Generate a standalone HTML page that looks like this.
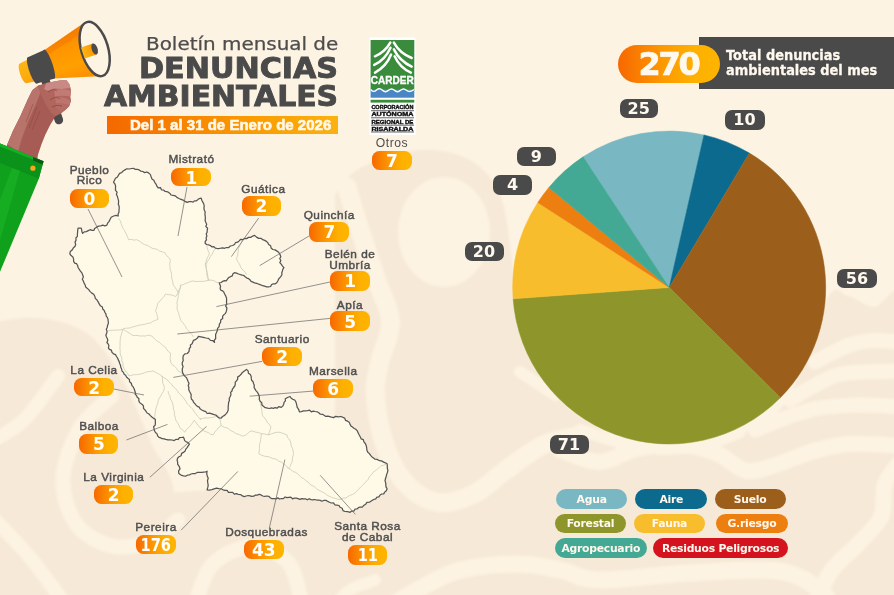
<!DOCTYPE html>
<html><head><meta charset="utf-8"><style>
*{margin:0;padding:0;box-sizing:border-box}
html,body{width:894px;height:595px;overflow:hidden;background:#fdf3e2}
body{position:relative;font-family:"Liberation Sans",Arial,sans-serif;color:#4a4a4a}
.abs{position:absolute}
svg{position:absolute;left:0;top:0}
.lt{position:absolute;width:120px;text-align:center;font-size:11.8px;line-height:14px;color:#4f4f4f;-webkit-text-stroke:0.45px #4f4f4f;letter-spacing:0.5px}
  .pill span{display:inline-block}
.pill{position:absolute;border-radius:7.5px;background:linear-gradient(90deg,#f76800,#fd9a00 45%,#feb100 75%,#feb400);color:#fff;font-family:"DejaVu Sans",sans-serif;font-weight:bold;font-size:17px;text-align:center}
.dp{position:absolute;border-radius:7px;background:#4a4a4a;color:#fff8ee;font-family:"DejaVu Sans",sans-serif;font-weight:bold;font-size:16px;text-align:center}
.lg{position:absolute;border-radius:10px;color:#fff8ee;font-family:"DejaVu Sans",sans-serif;font-weight:bold;font-size:10.8px;letter-spacing:-0.25px;text-align:center}
.t1{position:absolute;left:145.5px;top:33px;font-family:"DejaVu Sans",sans-serif;font-size:18px;line-height:22px;color:#4d4d4d;-webkit-text-stroke:0.25px #4d4d4d;white-space:nowrap;transform-origin:0 0;transform:scaleX(1.107)}
.t2{position:absolute;font-family:"DejaVu Sans",sans-serif;font-weight:bold;font-size:28.3px;line-height:30px;color:#4a4a4a;white-space:nowrap;-webkit-text-stroke:0.9px #4a4a4a;transform-origin:0 0}
.bar{position:absolute;left:106.7px;top:116.1px;width:231px;height:18.3px;background:linear-gradient(90deg,#f46800,#fa9a00 60%,#fbb210)}
.bart{position:absolute;left:130px;top:116.1px;color:#fff8ea;font-weight:bold;font-size:14.4px;line-height:18.3px;white-space:nowrap;-webkit-text-stroke:0.55px #fff8ea;transform-origin:0 0;transform:scaleX(1.044)}
</style></head><body>
<svg width="894" height="595" viewBox="0 0 894 595">
<g id="bgshapes"><filter id="bl"><feGaussianBlur stdDeviation="1.2"/></filter><g filter="url(#bl)"><g fill="#f6e9d7"><path d="M-20,325 C-10.8,323.8 17.5,316.8 35,318 C52.5,319.2 71.2,323.0 85,332 C98.8,341.0 107.2,354.0 118,372 C128.8,390.0 140.5,417.8 150,440 C159.5,462.2 176.7,475.0 175,505 C173.3,535.0 172.5,600.8 140,620 C107.5,639.2 6.7,620.0 -20,620 Z"/><path d="M130,495 C181.7,494.2 386.7,469.2 440,490 C493.3,510.8 501.7,598.3 450,620 C398.3,641.7 183.3,620.0 130,620 Z"/><path d="M335,195 C339.2,190.5 345.8,175.5 360,168 C374.2,160.5 401.7,151.3 420,150 C438.3,148.7 456.7,152.5 470,160 C483.3,167.5 493.0,178.3 500,195 C507.0,211.7 508.7,237.5 512,260 C515.3,282.5 512.0,306.7 520,330 C528.0,353.3 540.0,380.7 560,400 C580.0,419.3 616.7,438.7 640,446 C663.3,453.3 676.7,450.0 700,444 C723.3,438.0 759.0,434.0 780,410 C801.0,386.0 814.7,319.0 826,300 C837.3,281.0 840.2,294.8 848,296 C855.8,297.2 862.0,304.7 873,307 C884.0,309.3 907.2,257.8 914,310 C920.8,362.2 1010.5,568.3 914,620 C817.5,671.7 431.5,620.0 335,620 Z"/></g><ellipse cx="444" cy="232" rx="46" ry="55" fill="#fdf3e2"/><g fill="none" stroke="#fdf3e2" stroke-linecap="round" stroke-linejoin="round"><path d="M58,376 C52.3,383.3 35.3,409.0 24,420 C12.7,431.0 -4.3,438.3 -10,442" stroke-width="14"/><path d="M112,396 C106.7,401.3 88.2,414.3 80,428 C71.8,441.7 63.7,462.0 63,478 C62.3,494.0 67.8,512.7 76,524 C84.2,535.3 99.7,543.2 112,546 C124.3,548.8 139.0,545.3 150,541 C161.0,536.7 173.3,523.5 178,520" stroke-width="15"/><path d="M-10,515 C-3.7,521.7 16.0,540.8 28,555 C40.0,569.2 56.3,592.5 62,600" stroke-width="14"/><path d="M195,605 C197.8,598.3 202.8,574.7 212,565 C221.2,555.3 237.3,547.5 250,547 C262.7,546.5 279.3,552.3 288,562 C296.7,571.7 299.7,597.8 302,605" stroke-width="15"/><path d="M335,605 C337.5,602.5 343.3,594.2 350,590 C356.7,585.8 370.8,581.7 375,580" stroke-width="12"/><path d="M346.8,186.9 C349.0,194.1 355.0,214.3 360,230 C365.0,245.7 371.9,265.8 377,281 C382.1,296.2 389.9,308.1 390.5,321.3 C391.1,334.5 382.9,348.4 380.4,360 C377.9,371.6 374.8,377.8 375.3,391.2 C375.8,404.6 378.7,425.4 383.5,440.5 C388.3,455.6 395.2,471.4 404.1,481.7 C413.0,492.0 425.4,500.2 437,502.3 C448.6,504.4 462.3,499.5 474,494 C485.7,488.5 495.3,477.5 507,469.3 C518.7,461.1 531.8,450.2 544,444.7 C556.2,439.1 574.0,437.4 580,436" stroke-width="19"/><path d="M391.7,605 C402.0,599.5 432.9,579.0 453.5,572.2 C474.1,565.4 497.5,564.4 515.2,564 C533.0,563.6 545.9,567.3 560,570 C574.1,572.7 578.5,579.5 600,580 C621.5,580.5 659.3,574.5 689,573 C718.7,571.5 756.2,568.2 778,571 C799.8,573.8 811.3,584.3 820,590 C828.7,595.7 828.3,602.5 830,605" stroke-width="17"/><path d="M815,362 C820.5,359.3 838.3,349.2 848,345.6 C857.7,342.0 864.3,341.1 873,340.5 C881.7,339.9 895.5,341.8 900,342" stroke-width="15"/><path d="M790,400 C795.5,396.8 813.3,385.5 823,381 C832.7,376.5 835.2,374.7 848,373 C860.8,371.3 891.3,371.3 900,371" stroke-width="15"/><path d="M755,430 C764.2,426.7 792.3,414.2 810,410 C827.7,405.8 846.0,405.5 861,405 C876.0,404.5 893.5,406.7 900,407" stroke-width="15"/><path d="M560,450 C566.7,452.0 587.3,462.2 600,462 C612.7,461.8 622.7,451.8 636,449 C649.3,446.2 666.7,444.3 680,445 C693.3,445.7 704.8,448.7 716,453 C727.2,457.3 736.7,469.2 747,471 C757.3,472.8 766.8,467.3 778,464 C789.2,460.7 802.2,454.3 814,451 C825.8,447.7 834.7,444.8 849,444 C863.3,443.2 891.5,445.7 900,446" stroke-width="16"/><path d="M900,462 C897.5,465.7 888.2,474.8 885,484 C881.8,493.2 885.5,507.0 881,517 C876.5,527.0 866.2,535.2 858,544 C849.8,552.8 839.3,559.8 832,570 C824.7,580.2 817.0,599.2 814,605" stroke-width="16"/><path d="M580,430 C590.0,432.8 620.0,444.3 640,447 C660.0,449.7 683.3,448.5 700,446 C716.7,443.5 733.3,434.3 740,432" stroke-width="12"/><path d="M520,372 C523.3,374.2 534.2,381.2 540,385 C545.8,388.8 552.5,393.3 555,395" stroke-width="12"/></g></g></g>

<defs>
<linearGradient id="cone" x1="0" y1="0" x2="0" y2="1">
<stop offset="0" stop-color="#f67c00"/><stop offset="0.3" stop-color="#ff9500"/><stop offset="0.65" stop-color="#ffa000"/><stop offset="1" stop-color="#fb8a00"/></linearGradient>
<linearGradient id="back" x1="0" y1="0" x2="0" y2="1">
<stop offset="0" stop-color="#fdb814"/><stop offset="1" stop-color="#fba50c"/></linearGradient>
<linearGradient id="drv" x1="0" y1="0" x2="1" y2="0">
<stop offset="0" stop-color="#fdb515"/><stop offset="1" stop-color="#fb9300"/></linearGradient>
</defs>
<g transform="translate(21.75,73.8) rotate(-18.8)">
 <rect x="16" y="10" width="8.5" height="50" rx="4.2" fill="#4a4a4a"/>
 <path d="M1.5,-10.5 L12,-11.8 L12,11.8 L1.5,10.5 A3.2,10.5 0 0 1 1.5,-10.5 Z" fill="url(#back)"/>
 <path d="M28,-14.8 L77,-28.6 L77,28.6 L29,14.8 Z" fill="url(#cone)"/>
 <path d="M28,-14.8 L77,-28.6 L77,-21 L31,-9.5 Z" fill="#f47a00" opacity="0.55"/>
 <path d="M10.5,-13.6 L28.2,-15.2 A3.2,15.2 0 0 1 29.8,15.1 L12,14 A3.2,13.8 0 0 1 10.5,-13.6 Z" fill="#4a4a4a"/>
 <ellipse cx="77" cy="0" rx="13.4" ry="28" fill="#fdf4e4" stroke="#4a4a4a" stroke-width="2.5" transform="rotate(2.5 77 0)"/>
 <path d="M64.5,-5.8 L77,-5.8 L77,5.8 L64.5,5.8 Z" fill="url(#drv)"/>
 <ellipse cx="77" cy="0" rx="2.9" ry="5.8" fill="#4a4a4a"/>
</g>


<path d="M7.4,143.9 L12.9,131 L20.3,116.2 L27.7,99.6 L32.3,90.3 L37.9,85.7 L55,82 L55.4,116.2 L49.9,125.4 L45.3,134.7 L41.6,143.9 L37.9,155 L37,162 L5,150 Z" fill="#a65c55"/>
<path d="M7.4,143.9 L12.9,131 L20.3,116.2 L27.7,99.6 L32.3,90.3 L37.9,85.7 L43,86 L36,104 L28,122 L22,138 L18,152 Z" fill="#b8736a"/>
<path d="M29,128 L37,107 M32,130 L40,111 M26,122 L33,104" stroke="#8a3f3b" stroke-width="0.55" fill="none" opacity="0.8"/>
<path d="M37.9,85.7 L46.2,82.9 L61,80.2 L66.5,80.2 L69.3,83.9 L71.1,90.3 L70.2,95.9 L71.1,100.5 L69.3,106 L65.6,109.7 L61,113.4 L55.4,116.2 L51,113 L46,105 L41,95 Z" fill="#b0655d"/>
<path d="M46.2,82.9 L61,80.2 L66.5,80.2 L69.3,83.9 L70.5,88 L62,89 L54,88.5 L48,91 L44,89 Z" fill="#c98984"/>
<path d="M54,90 Q63,88.5 71,90.5 L70.6,96.5 Q62,95 55,96.5 Z" fill="#c07b74"/>
<path d="M55,97 Q63,96 71,100.5 L69.5,105.5 Q62,102.5 56,103.5 Z" fill="#bb756e"/>
<path d="M56,104 Q62,103 69.3,106 L65.6,109.7 L61,112.5 Q58,109 56,108 Z" fill="#b46c65"/>
<path d="M48,92 Q53,88 57,91 M50,100 Q55,96 60,98.5 M52,107 Q57,104 62,106" stroke="#8a3a38" stroke-width="0.6" fill="none"/>
<path d="M0,143.5 L43.5,161.2 L38.8,178.8 L0,271.8 Z" fill="#10a11c"/>
<path d="M0,143.5 L43.5,161.2 L38.8,178.8 L0,163 Z" fill="#0b921b"/>
<path d="M0,143.5 L43.5,161.2 L43,163.5 L0,146.5 Z" fill="#12b226"/>
<path d="M33,157 L43.5,161.2 L42.6,164.5 L33,160.5 Z" fill="#0a5a16"/>
<path d="M12,168 L20,170.5 L0,240 L0,200 Z" fill="#1cb92a" opacity="0.5"/>
<circle cx="32.9" cy="168.2" r="2.6" fill="#f6a91b"/>


<rect x="369.5" y="37.5" width="46" height="97.5" fill="#ffffff"/>
<rect x="370.6" y="40" width="43.7" height="51" fill="#3a8b3b"/>
<g fill="none" stroke="#fff" stroke-width="2.5" stroke-linecap="round">
<path d="M390.3,42.6 Q385,52 374.9,56.3"/><path d="M390.5,47.7 Q385,60 374.2,64.9"/><path d="M391.1,54.6 Q386,67 375,72.6"/>
<path d="M393.9,42.6 Q399.5,53 411.7,58"/><path d="M393.9,49.4 Q399.5,61 411.7,66.6"/><path d="M394.6,56.3 Q400,68 410.9,72.6"/>
</g>
<text x="392.3" y="84" font-family="'Liberation Sans',sans-serif" font-weight="bold" font-size="10.3" fill="#fff" stroke="#fff" stroke-width="0.3" text-anchor="middle" textLength="43" lengthAdjust="spacingAndGlyphs">CARDER</text>
<rect x="370.6" y="89.5" width="43.7" height="8.2" fill="#4a86c4"/>
<path d="M370.6,89.5 Q373.5,93 376.5,90 Q379.5,87.5 382.5,90.3 Q385.5,93 388.5,90.3 Q391.5,87.5 394.5,90.3 Q397.5,93 400.5,90.3 Q403.5,87.5 406.5,90.3 Q409.5,93 414.3,89.5" fill="none" stroke="#fff" stroke-width="1.4"/>
<rect x="370.6" y="99.8" width="43.7" height="2.8" fill="#3a8b3b"/>
<g font-family="'Liberation Sans',sans-serif" font-weight="bold" font-size="4.9" fill="#111" stroke="#111" stroke-width="0.35" text-anchor="middle">
<text x="392.4" y="109.4" textLength="42" lengthAdjust="spacingAndGlyphs">CORPORACIÓN</text>
<text x="392.4" y="116.3" textLength="42" lengthAdjust="spacingAndGlyphs">AUTÓNOMA</text>
<text x="392.4" y="123.8" textLength="42" lengthAdjust="spacingAndGlyphs">REGIONAL DE</text>
<text x="392.4" y="130.5" textLength="42" lengthAdjust="spacingAndGlyphs">RISARALDA</text>
</g>
<g stroke="#222" stroke-width="0.7">
<line x1="371" y1="110.7" x2="414" y2="110.7"/><line x1="371" y1="117.8" x2="414" y2="117.8"/><line x1="371" y1="125.2" x2="414" y2="125.2"/><line x1="371" y1="132" x2="414" y2="132"/>
</g>

<g id="pie"><path d="M669.2,287.5 L583.05,156.85 A156.5,156.5 0 0 1 703.98,134.91 Z" fill="#79b8c3" stroke="#79b8c3" stroke-width="0.5" stroke-linejoin="round"/><path d="M669.2,287.5 L703.98,134.91 A156.5,156.5 0 0 1 749.41,153.11 Z" fill="#0b6a8d" stroke="#0b6a8d" stroke-width="0.5" stroke-linejoin="round"/><path d="M669.2,287.5 L749.41,153.11 A156.5,156.5 0 0 1 780.31,397.72 Z" fill="#9c5f1b" stroke="#9c5f1b" stroke-width="0.5" stroke-linejoin="round"/><path d="M669.2,287.5 L780.31,397.72 A156.5,156.5 0 0 1 513.11,298.80 Z" fill="#8e962b" stroke="#8e962b" stroke-width="0.5" stroke-linejoin="round"/><path d="M669.2,287.5 L513.11,298.80 A156.5,156.5 0 0 1 537.80,202.49 Z" fill="#f8bd2d" stroke="#f8bd2d" stroke-width="0.5" stroke-linejoin="round"/><path d="M669.2,287.5 L537.80,202.49 A156.5,156.5 0 0 1 548.88,187.43 Z" fill="#ec7f10" stroke="#ec7f10" stroke-width="0.5" stroke-linejoin="round"/><path d="M669.2,287.5 L548.88,187.43 A156.5,156.5 0 0 1 583.05,156.85 Z" fill="#43a994" stroke="#43a994" stroke-width="0.5" stroke-linejoin="round"/></g>
<path d="M113.5,182.2 L114.5,180.3 L115.5,178.3 L117.5,177.0 L118.5,175.1 L119.6,173.3 L121.6,172.6 L122.9,171.2 L124.6,170.1 L126.8,168.8 L129.3,169.0 L131.6,168.5 L133.6,168.3 L135.3,169.4 L137.3,169.4 L139.1,169.9 L140.7,171.1 L142.8,171.5 L144.6,172.6 L146.9,172.0 L148.8,173.1 L150.4,174.6 L151.1,176.8 L151.9,178.9 L153.8,180.2 L154.7,182.3 L156.0,184.1 L156.9,186.2 L158.1,187.9 L160.5,187.6 L161.4,189.8 L163.5,190.0 L164.9,191.3 L166.8,191.6 L168.4,192.3 L169.9,193.4 L171.1,195.0 L173.0,195.3 L175.2,195.8 L176.9,197.4 L178.9,198.5 L181.0,199.3 L183.1,200.1 L185.0,201.4 L187.1,202.4 L189.1,201.6 L191.1,201.5 L193.1,202.1 L194.5,200.9 L196.5,200.8 L197.9,199.6 L199.4,198.6 L201.2,198.1 L201.8,200.2 L202.8,202.1 L203.8,204.0 L204.2,206.1 L203.9,208.2 L204.3,210.2 L205.2,212.1 L204.9,214.2 L205.2,216.2 L205.4,218.2 L205.1,220.3 L205.7,222.3 L206.7,224.2 L205.8,226.4 L207.6,228.2 L207.2,230.3 L207.1,232.2 L206.2,234.0 L206.9,236.0 L206.1,237.8 L206.5,239.8 L205.2,241.5 L205.2,243.4 L206.7,244.5 L208.6,244.9 L210.3,245.5 L211.8,246.8 L213.9,246.7 L215.4,248.1 L217.3,248.5 L219.1,248.5 L221.0,248.2 L222.8,247.8 L224.6,248.3 L226.4,247.5 L228.7,247.5 L230.4,246.0 L232.6,245.5 L234.5,244.5 L235.5,242.7 L237.7,242.2 L239.2,240.9 L240.5,239.4 L242.7,239.7 L244.5,238.4 L246.6,238.6 L248.5,237.4 L250.6,237.4 L252.5,236.2 L254.6,235.4 L256.5,237.1 L258.7,238.4 L261.0,238.3 L262.7,239.7 L264.7,240.4 L266.4,241.4 L267.8,242.7 L268.7,244.5 L270.6,245.7 L271.1,248.1 L272.8,249.5 L275.1,249.9 L277.0,251.1 L278.8,252.5 L280.0,254.5 L280.8,256.6 L279.8,258.5 L280.8,260.7 L279.8,262.6 L281.2,264.2 L282.5,266.1 L283.9,267.7 L282.8,269.3 L282.4,271.1 L281.8,272.8 L281.9,274.7 L280.6,276.9 L278.8,278.7 L277.9,280.8 L276.8,282.8 L275.3,283.8 L273.3,283.8 L271.6,284.5 L270.6,286.5 L268.7,286.8 L266.6,286.8 L264.6,286.2 L262.6,285.7 L260.7,284.8 L258.7,284.2 L256.7,283.3 L254.6,282.8 L252.9,282.1 L251.1,281.4 L250.0,279.8 L248.6,278.7 L246.9,278.1 L245.4,277.0 L244.1,275.6 L242.3,275.2 L240.5,274.7 L238.5,274.0 L236.6,273.2 L234.5,272.7 L232.9,273.8 L232.3,275.9 L230.4,276.7 L228.6,277.6 L227.4,279.1 L226.4,280.8 L224.5,280.7 L222.7,281.3 L221.1,282.5 L219.3,282.8 L219.8,284.6 L220.6,286.3 L220.1,288.2 L220.6,290.0 L222.5,290.8 L223.8,292.1 L224.6,294.0 L225.7,295.9 L226.5,297.9 L226.6,300.1 L226.5,302.1 L226.7,304.2 L225.6,306.1 L226.9,307.9 L226.6,310.2 L226.1,312.0 L225.2,313.6 L223.8,314.8 L222.6,316.2 L222.7,318.5 L220.7,320.1 L220.6,322.3 L219.4,324.2 L219.1,326.6 L217.6,328.3 L217.3,330.5 L216.5,332.4 L215.6,334.4 L215.6,336.4 L215.7,338.5 L214.2,340.3 L214.5,342.4 L212.9,340.7 L210.5,340.4 L208.5,338.4 L205.9,338.0 L203.4,337.4 L200.9,336.9 L198.4,336.4 L197.2,338.3 L195.5,339.6 L193.4,340.4 L192.8,342.1 L192.1,343.8 L190.4,345.0 L190.6,347.1 L189.3,348.5 L189.1,351.3 L187.3,353.5 L184.9,353.9 L183.3,355.6 L182.9,357.9 L183.2,360.4 L182.3,362.6 L182.2,364.6 L183.1,366.6 L182.3,368.7 L182.3,370.7 L182.6,372.9 L183.7,374.7 L185.0,376.4 L186.6,377.9 L187.4,379.8 L188.2,381.8 L189.0,383.6 L188.2,385.6 L188.9,387.4 L188.7,389.4 L189.4,391.2 L190.4,393.0 L191.2,394.8 L191.0,397.0 L191.4,399.0 L192.9,400.6 L193.6,402.4 L194.9,403.7 L196.0,405.1 L197.3,406.3 L199.2,407.1 L200.0,408.8 L201.8,410.0 L203.7,410.9 L205.8,411.7 L207.1,413.5 L209.6,413.1 L211.8,413.9 L214.1,414.7 L216.1,415.2 L217.5,416.7 L219.1,418.0 L221.2,418.2 L222.5,416.5 L224.6,415.4 L226.0,413.8 L227.4,412.1 L228.2,410.0 L228.2,408.1 L228.2,406.2 L228.5,404.3 L228.6,402.4 L229.4,400.6 L229.2,398.5 L230.2,396.5 L231.0,394.5 L230.6,392.4 L232.0,391.0 L232.4,389.1 L233.6,387.5 L234.8,386.0 L235.3,384.1 L235.2,382.1 L236.7,380.7 L237.7,379.1 L237.6,377.1 L239.5,375.9 L241.1,374.3 L242.4,372.4 L244.4,370.9 L246.5,369.4 L248.1,370.9 L248.4,373.2 L250.3,374.6 L251.2,376.5 L251.3,378.4 L251.6,380.3 L253.1,381.7 L253.5,383.5 L254.3,385.2 L254.0,387.3 L254.9,388.9 L255.9,390.6 L257.3,392.1 L258.2,393.8 L259.1,395.6 L259.4,397.6 L259.3,399.6 L260.1,401.3 L261.8,402.7 L261.8,404.7 L263.4,406.3 L265.2,407.7 L267.6,408.2 L269.5,408.5 L271.4,407.9 L273.3,408.3 L275.2,407.6 L277.1,408.2 L278.7,406.7 L281.3,407.4 L282.9,405.9 L283.7,404.2 L284.1,402.4 L285.4,400.8 L285.3,398.8 L287.6,397.5 L290.0,396.5 L291.2,398.2 L292.8,399.3 L294.7,400.0 L295.8,401.6 L296.3,403.4 L296.8,405.2 L297.1,407.1 L298.6,409.3 L299.4,411.8 L301.5,411.6 L303.4,410.8 L305.5,410.8 L307.6,410.6 L309.6,410.2 L311.3,411.8 L313.3,411.1 L315.2,411.5 L317.1,411.8 L318.8,412.8 L320.3,414.2 L322.4,414.3 L324.1,415.3 L325.8,416.4 L327.9,416.2 L329.7,416.7 L331.6,417.2 L333.5,417.6 L335.7,416.4 L338.2,416.8 L340.6,416.5 L342.7,417.2 L344.6,418.1 L345.6,420.4 L347.6,421.2 L349.2,422.3 L350.0,424.1 L350.9,425.9 L352.4,427.1 L353.9,428.3 L355.7,429.2 L357.1,430.6 L358.1,432.7 L359.1,434.8 L360.2,436.8 L361.1,438.8 L363.3,439.7 L363.9,441.9 L365.3,443.5 L366.2,445.6 L366.7,447.9 L366.9,450.2 L367.8,452.2 L369.4,453.6 L370.6,455.3 L372.0,456.9 L373.5,458.1 L375.0,459.2 L377.1,459.4 L378.7,460.3 L382.0,461.1 L383.6,462.1 L385.4,462.8 L387.1,463.7 L387.3,465.9 L387.3,468.2 L387.9,470.4 L387.4,472.5 L386.6,474.6 L386.1,476.7 L385.4,478.8 L385.0,480.9 L385.7,482.9 L385.8,484.9 L386.0,486.9 L387.1,488.8 L386.3,490.7 L384.7,492.1 L383.7,493.9 L381.7,494.0 L380.1,495.0 L378.9,496.9 L377.0,497.2 L375.7,498.9 L373.7,499.5 L372.0,500.6 L369.7,502.1 L366.9,502.3 L365.6,504.3 L363.6,505.6 L362.3,507.1 L360.1,507.0 L358.4,507.7 L356.9,509.0 L354.9,509.2 L353.8,511.2 L351.6,511.1 L350.1,512.3 L347.6,511.6 L345.1,511.5 L343.0,510.6 L342.2,508.2 L340.1,507.3 L339.0,505.5 L336.9,505.1 L334.9,504.8 L333.5,502.9 L331.3,503.0 L329.5,502.2 L327.7,501.4 L326.0,500.3 L324.1,500.3 L322.0,501.2 L320.3,500.4 L318.4,500.0 L316.5,500.0 L314.7,499.5 L312.8,499.9 L311.0,499.6 L309.2,498.7 L307.3,499.8 L305.5,498.8 L303.6,498.8 L301.8,498.6 L299.9,499.3 L298.1,498.7 L296.3,498.1 L294.4,498.1 L292.5,498.8 L290.8,497.1 L288.9,497.3 L287.0,497.7 L285.1,497.0 L283.3,498.6 L281.5,498.5 L279.6,499.0 L277.7,497.9 L275.9,498.9 L274.0,498.6 L272.0,498.7 L270.3,497.7 L268.7,496.3 L266.8,496.0 L264.7,496.4 L262.8,496.0 L261.1,494.9 L259.2,494.3 L257.4,495.1 L255.5,495.0 L253.8,496.2 L251.9,496.4 L250.0,495.8 L248.1,495.5 L246.2,496.0 L244.3,496.6 L242.4,495.9 L240.6,494.6 L238.5,494.5 L236.6,493.7 L234.3,494.2 L232.7,492.4 L230.6,492.4 L228.5,492.4 L227.1,490.4 L224.9,490.3 L223.0,489.8 L221.2,488.8 L218.8,488.7 L216.5,488.1 L214.1,488.8 L211.8,489.6 L209.5,490.2 L207.1,490.0 L207.7,487.7 L208.2,485.3 L207.8,482.9 L207.5,480.6 L208.2,478.2 L207.3,476.0 L206.7,473.7 L207.1,471.2 L205.4,472.0 L203.6,472.1 L201.8,472.4 L200.0,472.4 L197.6,472.3 L195.3,473.5 L192.9,473.5 L191.0,474.0 L189.3,475.0 L187.3,475.2 L185.6,476.2 L183.5,475.9 L181.0,475.1 L178.8,473.5 L178.6,470.9 L180.0,468.8 L179.2,466.3 L177.6,464.1 L177.7,462.1 L177.1,460.2 L177.6,458.2 L179.0,456.7 L181.1,455.8 L181.6,453.4 L183.5,452.4 L185.1,451.1 L185.8,449.1 L187.1,447.6 L188.2,445.8 L189.4,444.1 L188.2,442.5 L186.2,441.9 L184.7,440.6 L184.1,438.8 L183.5,437.1 L181.5,437.5 L179.5,437.7 L178.0,439.5 L175.8,439.4 L174.1,440.6 L172.1,440.0 L170.0,439.8 L167.9,439.9 L165.9,439.4 L164.1,438.9 L162.3,438.7 L160.7,437.9 L159.0,437.3 L157.6,435.9 L157.1,433.9 L155.5,432.5 L154.5,430.8 L154.1,428.8 L153.6,426.8 L155.2,425.1 L155.4,423.2 L155.3,421.3 L155.3,419.4 L153.5,418.3 L151.9,417.0 L150.4,415.6 L149.0,414.0 L147.1,413.0 L145.9,411.2 L144.8,409.7 L143.5,408.4 L143.5,406.2 L142.5,404.7 L140.9,403.6 L139.5,402.4 L138.8,400.6 L138.9,398.6 L137.2,397.3 L136.6,395.6 L135.3,394.2 L135.3,392.2 L134.7,390.5 L134.1,388.8 L133.2,386.9 L131.8,385.3 L131.3,383.2 L129.6,381.7 L129.4,379.4 L127.9,378.3 L126.5,377.0 L125.7,375.3 L124.1,374.3 L123.5,372.4 L122.0,371.0 L121.6,369.0 L120.8,367.3 L120.5,365.3 L119.7,363.5 L119.2,361.6 L118.3,359.9 L117.6,358.1 L116.5,356.5 L115.5,354.6 L113.5,353.8 L112.0,352.4 L111.4,350.2 L109.4,349.4 L108.4,347.8 L108.9,345.8 L108.3,344.1 L106.9,342.5 L107.8,340.5 L107.4,338.7 L106.5,337.0 L105.9,335.3 L106.6,333.3 L107.1,331.4 L106.3,329.2 L107.3,327.2 L107.6,325.2 L108.4,323.3 L108.2,321.2 L108.0,319.2 L107.3,317.5 L106.2,315.9 L105.9,313.9 L104.9,312.3 L104.2,310.5 L102.7,309.0 L102.4,307.1 L100.4,305.8 L99.2,303.9 L98.2,301.9 L97.0,300.0 L95.3,298.4 L94.8,296.2 L93.7,294.3 L91.8,293.1 L90.2,291.6 L88.9,289.9 L87.4,288.4 L85.7,287.1 L85.2,285.0 L84.1,283.1 L83.4,281.1 L82.3,279.2 L83.4,277.0 L82.7,275.0 L81.9,272.9 L80.4,271.2 L79.3,269.3 L78.1,267.5 L77.6,265.5 L76.6,263.7 L74.7,263.1 L73.6,261.4 L73.6,259.1 L72.9,256.9 L71.1,255.6 L69.8,253.8 L70.3,251.6 L72.1,250.1 L73.3,248.0 L75.1,246.3 L75.7,244.3 L75.0,242.1 L76.1,240.1 L75.9,238.0 L77.4,236.4 L77.4,234.2 L77.6,232.2 L77.7,230.1 L78.1,228.1 L81.2,228.1 L81.7,229.9 L81.9,231.7 L82.7,233.4 L84.2,231.9 L86.4,231.6 L88.3,230.6 L90.2,229.7 L92.1,230.3 L94.0,230.4 L94.6,228.5 L96.3,227.4 L98.4,226.1 L100.8,225.9 L102.8,225.2 L104.9,225.8 L106.9,225.1 L107.6,223.2 L109.0,221.6 L109.9,219.8 L111.2,217.3 L113.7,216.0 L116.0,215.3 L118.2,216.0 L118.1,213.9 L119.0,212.0 L119.0,210.0 L119.2,208.1 L119.1,206.1 L118.3,204.3 L118.6,202.3 L118.5,200.4 L117.9,198.4 L117.4,196.3 L116.4,194.5 L117.1,192.1 L115.5,190.4 L115.5,188.2 L115.6,185.9 L114.9,184.0 Z" fill="#fffae7"/>
<g fill="none" stroke="#c9cbb6" stroke-width="0.8"><path d="M118.5,218.5 L120.2,220.7 L121.0,223.3 L121.9,225.9 L123.0,228.4 L124.6,230.6 L126.0,233.6 L127.5,236.6 L128.6,239.7 L131.3,239.4 L134.0,240.1 L136.7,239.7 L139.5,241.1 L142.0,243.1 L144.7,244.7 L147.4,245.4 L149.7,246.8 L152.1,248.2 L154.8,248.8 L157.5,249.5 L159.7,251.1 L162.4,251.8 L164.9,252.8 L166.3,255.1 L168.1,257.0 L170.0,258.9 L170.3,261.4 L169.6,263.9 L170.0,266.5 L170.0,269.0 L171.0,271.6 L171.6,274.3 L171.6,277.0 L172.2,279.7 L172.9,282.4 L173.2,285.1 L175.2,287.4 L176.7,290.1 L178.2,292.7 L178.9,290.1 L180.2,287.7 L180.7,285.1"/><path d="M205.3,242.7 L206.8,245.0 L207.1,247.8 L208.0,250.4 L209.3,252.8 L208.9,255.3 L207.3,257.5 L206.7,260.0 L205.7,262.4 L205.3,264.9 L206.0,267.4 L206.4,269.9 L206.9,272.4 L206.8,275.1 L207.7,277.5 L208.3,280.0 L208.5,280.1"/><path d="M242.5,240.4 L241.3,243.2 L239.9,245.8 L238.5,248.5 L238.2,251.1 L237.9,253.6 L237.4,256.2 L236.5,258.6 L237.5,261.4 L239.4,263.8 L240.5,266.6 L241.7,268.9 L243.8,270.5 L245.3,272.5 L246.6,274.7"/><path d="M215.3,248.5 L213.6,251.2 L212.2,254.1 L210.3,256.6 L209.0,259.3 L207.2,261.7 L206.2,264.6 L206.2,267.3 L206.6,270.0 L207.2,272.7 L207.7,275.4 L208.1,278.2 L209.2,280.8"/><path d="M180.7,285.1 L183.4,284.6 L185.8,283.3 L188.4,282.5 L190.8,281.4 L193.3,280.9 L195.9,281.6 L198.4,281.4 L200.9,281.4 L203.5,281.3 L206.0,280.9 L208.4,280.2 L211.0,280.1 L213.9,280.6 L216.4,282.3 L219.3,282.8"/><path d="M180.7,285.1 L180.4,287.7 L179.5,290.2 L179.0,292.7 L178.2,295.2 L178.1,297.7 L177.4,300.2 L176.9,302.7 L177.4,305.3 L176.9,307.8 L177.5,310.4 L178.6,312.8 L179.1,315.4 L180.0,317.9 L180.7,320.5 L182.5,322.3 L184.0,324.3 L185.5,326.3 L186.5,328.7 L188.3,330.5 L190.0,332.6 L191.9,334.6 L193.3,336.9"/><path d="M178.2,292.7 L175.7,296.5 L173.3,295.5 L170.8,294.8 L168.1,294.7 L165.6,294.0 L164.0,296.4 L162.0,298.6 L160.2,300.9 L158.0,302.8 L157.3,305.4 L156.7,308.0 L155.5,310.4 L156.6,313.3 L157.4,316.2 L158.0,319.2 L155.5,320.4 L152.8,321.4 L150.5,323.0 L147.9,323.3 L145.4,324.1 L142.9,324.6 L140.3,325.0 L137.8,325.5 L135.3,326.3 L132.8,326.9 L130.4,327.8 L127.8,328.2 L125.1,328.2 L122.7,329.3 L119.8,330.0 L116.8,330.0 L113.9,330.2 L110.9,330.3 L108.0,331.0"/><path d="M122.7,329.3 L125.4,330.6 L127.9,332.3 L130.4,333.8 L132.8,335.6 L135.3,335.5 L137.9,335.5 L140.4,336.1 L142.9,335.9 L145.4,336.0 L148.0,335.1 L150.5,335.6 L152.8,336.7 L154.4,338.8 L156.3,340.5 L158.5,341.7 L160.5,343.2 L162.5,345.3 L164.9,346.8 L166.6,349.1 L168.3,351.5 L170.6,353.2 L170.3,356.2 L170.2,359.1 L170.6,362.1 L172.1,364.6 L174.6,366.3 L176.6,368.4 L178.2,370.9 L180.9,372.5 L183.2,374.7"/><path d="M122.7,329.3 L122.1,332.1 L121.3,334.9 L120.4,337.7 L120.2,340.6 L120.0,343.1 L120.1,345.6 L119.9,348.2 L120.2,350.7 L120.2,353.2 L120.8,355.7 L121.9,358.2 L121.8,360.9 L123.0,363.3 L123.0,366.0 L124.0,368.4 L125.5,371.0 L127.5,373.4 L129.0,376.0 L131.7,375.1 L134.5,374.7 L137.4,374.6 L140.2,374.1 L142.9,373.4 L145.3,372.4 L147.8,371.7 L150.5,371.5 L153.0,370.9 L155.2,372.2 L157.5,373.4 L159.7,374.5 L161.8,376.0 L163.8,377.7 L166.3,378.9 L168.1,381.0 L170.1,382.8 L171.9,384.8 L173.5,387.0 L175.7,388.6 L177.3,390.8 L178.8,393.0 L180.8,394.9 L182.6,396.8 L184.3,398.9 L185.8,401.2 L187.1,403.6 L189.0,405.5 L191.0,407.4 L192.9,409.3 L194.2,411.7 L195.9,413.8 L197.4,416.0 L199.3,417.9 L200.9,420.0"/><path d="M161.8,376.0 L162.5,378.5 L162.6,381.1 L162.9,383.6 L164.1,386.0 L164.3,388.6 L163.5,391.3 L161.9,393.7 L160.6,396.2 L159.1,398.6 L158.0,401.2 L157.7,403.8 L156.5,406.2 L155.9,408.7 L155.5,411.3 L155.0,413.9 L154.8,416.5 L154.0,419.0"/><path d="M168.1,391.1 L168.5,393.8 L170.0,396.1 L170.3,398.8 L171.8,401.1 L172.6,403.6 L173.2,406.2 L173.4,409.0 L174.4,411.7 L174.3,414.6 L175.2,417.2 L175.7,420.0 L177.4,422.5 L178.8,425.2 L180.0,428.0 L182.5,430.0 L184.9,432.2"/><path d="M194.3,420.1 L196.2,422.9 L198.3,425.5 L199.8,427.6 L202.2,428.8 L203.7,430.9 L206.1,431.8 L208.5,432.6 L210.6,434.3 L213.1,434.9 L214.8,432.0 L217.1,429.5 L218.8,427.2 L221.1,425.5"/><path d="M184.9,432.2 L186.1,429.9 L187.9,428.1 L189.9,426.4 L191.5,424.4 L192.9,422.3 L194.3,420.1"/><path d="M221.1,425.5 L224.3,427.3 L227.9,428.2 L230.3,430.4 L233.3,431.7 L235.9,433.6 L239.4,434.6 L242.6,436.2 L245.2,435.3 L247.4,433.8 L249.4,431.8 L252.0,430.9 L255.1,432.0 L258.3,432.6 L261.4,433.6 L264.8,434.1 L268.1,434.9 L270.8,434.1 L273.4,433.2 L276.1,432.4 L278.9,432.2 L281.6,432.9 L284.3,433.9 L286.9,434.9 L287.8,437.8 L289.9,440.1 L290.9,443.0 L291.1,445.8 L292.5,448.3 L293.1,451.0 L293.6,453.7 L292.8,456.3 L292.4,459.0 L292.3,461.7 L291.0,464.0 L290.0,466.5 L288.3,468.5"/><path d="M261.4,433.6 L261.0,436.7 L260.7,439.9 L260.1,443.0 L259.3,445.6 L259.7,448.4 L259.2,451.0 L258.7,453.7 L261.9,455.4 L265.4,456.4 L268.2,456.6 L270.8,457.7 L273.4,458.7 L276.2,459.1 L278.7,461.1 L281.8,462.3 L284.2,464.4 L286.6,466.1 L288.3,468.5"/><path d="M288.3,468.5 L290.9,469.4 L292.8,471.5 L295.5,472.3 L297.7,473.8 L299.5,475.7 L301.4,477.5 L303.8,478.7 L305.7,480.5 L308.0,481.9 L309.7,484.1 L312.0,485.5 L314.4,486.8 L316.4,488.6 L318.4,490.1 L320.8,491.1 L323.0,492.4 L325.3,493.5 L327.2,495.3 L329.8,496.5 L332.4,497.7 L335.2,498.4 L337.9,499.3 L340.7,499.3 L343.2,498.0 L346.0,498.0 L348.0,496.4 L350.3,495.3 L352.7,494.4 L354.8,493.0 L356.7,491.3 L358.6,489.2 L360.6,487.1 L362.7,485.2 L364.8,483.2 L366.4,481.1 L368.3,479.2 L369.3,476.6 L371.4,474.8 L372.8,472.5 L375.0,471.0 L377.1,469.4 L379.0,467.7 L380.9,465.8 L383.6,465.2 L386.2,464.4"/><path d="M260.1,402.7 L260.8,405.3 L261.4,408.0 L261.9,410.7 L262.0,413.5 L262.8,416.1 L264.7,418.0 L266.2,420.2 L267.4,422.7 L269.4,424.5 L270.8,426.8 L270.3,429.6 L269.4,432.3 L268.1,434.9"/><path d="M199.7,418.8 L202.4,418.5 L205.0,417.9 L207.8,418.1 L210.5,417.6 L213.2,417.4 L215.8,416.3 L218.5,416.1 L219.8,419.1 L220.6,422.3 L221.1,425.5"/></g>
<path d="M113.5,182.2 L114.5,180.3 L115.5,178.3 L117.5,177.0 L118.5,175.1 L119.6,173.3 L121.6,172.6 L122.9,171.2 L124.6,170.1 L126.8,168.8 L129.3,169.0 L131.6,168.5 L133.6,168.3 L135.3,169.4 L137.3,169.4 L139.1,169.9 L140.7,171.1 L142.8,171.5 L144.6,172.6 L146.9,172.0 L148.8,173.1 L150.4,174.6 L151.1,176.8 L151.9,178.9 L153.8,180.2 L154.7,182.3 L156.0,184.1 L156.9,186.2 L158.1,187.9 L160.5,187.6 L161.4,189.8 L163.5,190.0 L164.9,191.3 L166.8,191.6 L168.4,192.3 L169.9,193.4 L171.1,195.0 L173.0,195.3 L175.2,195.8 L176.9,197.4 L178.9,198.5 L181.0,199.3 L183.1,200.1 L185.0,201.4 L187.1,202.4 L189.1,201.6 L191.1,201.5 L193.1,202.1 L194.5,200.9 L196.5,200.8 L197.9,199.6 L199.4,198.6 L201.2,198.1 L201.8,200.2 L202.8,202.1 L203.8,204.0 L204.2,206.1 L203.9,208.2 L204.3,210.2 L205.2,212.1 L204.9,214.2 L205.2,216.2 L205.4,218.2 L205.1,220.3 L205.7,222.3 L206.7,224.2 L205.8,226.4 L207.6,228.2 L207.2,230.3 L207.1,232.2 L206.2,234.0 L206.9,236.0 L206.1,237.8 L206.5,239.8 L205.2,241.5 L205.2,243.4 L206.7,244.5 L208.6,244.9 L210.3,245.5 L211.8,246.8 L213.9,246.7 L215.4,248.1 L217.3,248.5 L219.1,248.5 L221.0,248.2 L222.8,247.8 L224.6,248.3 L226.4,247.5 L228.7,247.5 L230.4,246.0 L232.6,245.5 L234.5,244.5 L235.5,242.7 L237.7,242.2 L239.2,240.9 L240.5,239.4 L242.7,239.7 L244.5,238.4 L246.6,238.6 L248.5,237.4 L250.6,237.4 L252.5,236.2 L254.6,235.4 L256.5,237.1 L258.7,238.4 L261.0,238.3 L262.7,239.7 L264.7,240.4 L266.4,241.4 L267.8,242.7 L268.7,244.5 L270.6,245.7 L271.1,248.1 L272.8,249.5 L275.1,249.9 L277.0,251.1 L278.8,252.5 L280.0,254.5 L280.8,256.6 L279.8,258.5 L280.8,260.7 L279.8,262.6 L281.2,264.2 L282.5,266.1 L283.9,267.7 L282.8,269.3 L282.4,271.1 L281.8,272.8 L281.9,274.7 L280.6,276.9 L278.8,278.7 L277.9,280.8 L276.8,282.8 L275.3,283.8 L273.3,283.8 L271.6,284.5 L270.6,286.5 L268.7,286.8 L266.6,286.8 L264.6,286.2 L262.6,285.7 L260.7,284.8 L258.7,284.2 L256.7,283.3 L254.6,282.8 L252.9,282.1 L251.1,281.4 L250.0,279.8 L248.6,278.7 L246.9,278.1 L245.4,277.0 L244.1,275.6 L242.3,275.2 L240.5,274.7 L238.5,274.0 L236.6,273.2 L234.5,272.7 L232.9,273.8 L232.3,275.9 L230.4,276.7 L228.6,277.6 L227.4,279.1 L226.4,280.8 L224.5,280.7 L222.7,281.3 L221.1,282.5 L219.3,282.8 L219.8,284.6 L220.6,286.3 L220.1,288.2 L220.6,290.0 L222.5,290.8 L223.8,292.1 L224.6,294.0 L225.7,295.9 L226.5,297.9 L226.6,300.1 L226.5,302.1 L226.7,304.2 L225.6,306.1 L226.9,307.9 L226.6,310.2 L226.1,312.0 L225.2,313.6 L223.8,314.8 L222.6,316.2 L222.7,318.5 L220.7,320.1 L220.6,322.3 L219.4,324.2 L219.1,326.6 L217.6,328.3 L217.3,330.5 L216.5,332.4 L215.6,334.4 L215.6,336.4 L215.7,338.5 L214.2,340.3 L214.5,342.4 L212.9,340.7 L210.5,340.4 L208.5,338.4 L205.9,338.0 L203.4,337.4 L200.9,336.9 L198.4,336.4 L197.2,338.3 L195.5,339.6 L193.4,340.4 L192.8,342.1 L192.1,343.8 L190.4,345.0 L190.6,347.1 L189.3,348.5 L189.1,351.3 L187.3,353.5 L184.9,353.9 L183.3,355.6 L182.9,357.9 L183.2,360.4 L182.3,362.6 L182.2,364.6 L183.1,366.6 L182.3,368.7 L182.3,370.7 L182.6,372.9 L183.7,374.7 L185.0,376.4 L186.6,377.9 L187.4,379.8 L188.2,381.8 L189.0,383.6 L188.2,385.6 L188.9,387.4 L188.7,389.4 L189.4,391.2 L190.4,393.0 L191.2,394.8 L191.0,397.0 L191.4,399.0 L192.9,400.6 L193.6,402.4 L194.9,403.7 L196.0,405.1 L197.3,406.3 L199.2,407.1 L200.0,408.8 L201.8,410.0 L203.7,410.9 L205.8,411.7 L207.1,413.5 L209.6,413.1 L211.8,413.9 L214.1,414.7 L216.1,415.2 L217.5,416.7 L219.1,418.0 L221.2,418.2 L222.5,416.5 L224.6,415.4 L226.0,413.8 L227.4,412.1 L228.2,410.0 L228.2,408.1 L228.2,406.2 L228.5,404.3 L228.6,402.4 L229.4,400.6 L229.2,398.5 L230.2,396.5 L231.0,394.5 L230.6,392.4 L232.0,391.0 L232.4,389.1 L233.6,387.5 L234.8,386.0 L235.3,384.1 L235.2,382.1 L236.7,380.7 L237.7,379.1 L237.6,377.1 L239.5,375.9 L241.1,374.3 L242.4,372.4 L244.4,370.9 L246.5,369.4 L248.1,370.9 L248.4,373.2 L250.3,374.6 L251.2,376.5 L251.3,378.4 L251.6,380.3 L253.1,381.7 L253.5,383.5 L254.3,385.2 L254.0,387.3 L254.9,388.9 L255.9,390.6 L257.3,392.1 L258.2,393.8 L259.1,395.6 L259.4,397.6 L259.3,399.6 L260.1,401.3 L261.8,402.7 L261.8,404.7 L263.4,406.3 L265.2,407.7 L267.6,408.2 L269.5,408.5 L271.4,407.9 L273.3,408.3 L275.2,407.6 L277.1,408.2 L278.7,406.7 L281.3,407.4 L282.9,405.9 L283.7,404.2 L284.1,402.4 L285.4,400.8 L285.3,398.8 L287.6,397.5 L290.0,396.5 L291.2,398.2 L292.8,399.3 L294.7,400.0 L295.8,401.6 L296.3,403.4 L296.8,405.2 L297.1,407.1 L298.6,409.3 L299.4,411.8 L301.5,411.6 L303.4,410.8 L305.5,410.8 L307.6,410.6 L309.6,410.2 L311.3,411.8 L313.3,411.1 L315.2,411.5 L317.1,411.8 L318.8,412.8 L320.3,414.2 L322.4,414.3 L324.1,415.3 L325.8,416.4 L327.9,416.2 L329.7,416.7 L331.6,417.2 L333.5,417.6 L335.7,416.4 L338.2,416.8 L340.6,416.5 L342.7,417.2 L344.6,418.1 L345.6,420.4 L347.6,421.2 L349.2,422.3 L350.0,424.1 L350.9,425.9 L352.4,427.1 L353.9,428.3 L355.7,429.2 L357.1,430.6 L358.1,432.7 L359.1,434.8 L360.2,436.8 L361.1,438.8 L363.3,439.7 L363.9,441.9 L365.3,443.5 L366.2,445.6 L366.7,447.9 L366.9,450.2 L367.8,452.2 L369.4,453.6 L370.6,455.3 L372.0,456.9 L373.5,458.1 L375.0,459.2 L377.1,459.4 L378.7,460.3 L382.0,461.1 L383.6,462.1 L385.4,462.8 L387.1,463.7 L387.3,465.9 L387.3,468.2 L387.9,470.4 L387.4,472.5 L386.6,474.6 L386.1,476.7 L385.4,478.8 L385.0,480.9 L385.7,482.9 L385.8,484.9 L386.0,486.9 L387.1,488.8 L386.3,490.7 L384.7,492.1 L383.7,493.9 L381.7,494.0 L380.1,495.0 L378.9,496.9 L377.0,497.2 L375.7,498.9 L373.7,499.5 L372.0,500.6 L369.7,502.1 L366.9,502.3 L365.6,504.3 L363.6,505.6 L362.3,507.1 L360.1,507.0 L358.4,507.7 L356.9,509.0 L354.9,509.2 L353.8,511.2 L351.6,511.1 L350.1,512.3 L347.6,511.6 L345.1,511.5 L343.0,510.6 L342.2,508.2 L340.1,507.3 L339.0,505.5 L336.9,505.1 L334.9,504.8 L333.5,502.9 L331.3,503.0 L329.5,502.2 L327.7,501.4 L326.0,500.3 L324.1,500.3 L322.0,501.2 L320.3,500.4 L318.4,500.0 L316.5,500.0 L314.7,499.5 L312.8,499.9 L311.0,499.6 L309.2,498.7 L307.3,499.8 L305.5,498.8 L303.6,498.8 L301.8,498.6 L299.9,499.3 L298.1,498.7 L296.3,498.1 L294.4,498.1 L292.5,498.8 L290.8,497.1 L288.9,497.3 L287.0,497.7 L285.1,497.0 L283.3,498.6 L281.5,498.5 L279.6,499.0 L277.7,497.9 L275.9,498.9 L274.0,498.6 L272.0,498.7 L270.3,497.7 L268.7,496.3 L266.8,496.0 L264.7,496.4 L262.8,496.0 L261.1,494.9 L259.2,494.3 L257.4,495.1 L255.5,495.0 L253.8,496.2 L251.9,496.4 L250.0,495.8 L248.1,495.5 L246.2,496.0 L244.3,496.6 L242.4,495.9 L240.6,494.6 L238.5,494.5 L236.6,493.7 L234.3,494.2 L232.7,492.4 L230.6,492.4 L228.5,492.4 L227.1,490.4 L224.9,490.3 L223.0,489.8 L221.2,488.8 L218.8,488.7 L216.5,488.1 L214.1,488.8 L211.8,489.6 L209.5,490.2 L207.1,490.0 L207.7,487.7 L208.2,485.3 L207.8,482.9 L207.5,480.6 L208.2,478.2 L207.3,476.0 L206.7,473.7 L207.1,471.2 L205.4,472.0 L203.6,472.1 L201.8,472.4 L200.0,472.4 L197.6,472.3 L195.3,473.5 L192.9,473.5 L191.0,474.0 L189.3,475.0 L187.3,475.2 L185.6,476.2 L183.5,475.9 L181.0,475.1 L178.8,473.5 L178.6,470.9 L180.0,468.8 L179.2,466.3 L177.6,464.1 L177.7,462.1 L177.1,460.2 L177.6,458.2 L179.0,456.7 L181.1,455.8 L181.6,453.4 L183.5,452.4 L185.1,451.1 L185.8,449.1 L187.1,447.6 L188.2,445.8 L189.4,444.1 L188.2,442.5 L186.2,441.9 L184.7,440.6 L184.1,438.8 L183.5,437.1 L181.5,437.5 L179.5,437.7 L178.0,439.5 L175.8,439.4 L174.1,440.6 L172.1,440.0 L170.0,439.8 L167.9,439.9 L165.9,439.4 L164.1,438.9 L162.3,438.7 L160.7,437.9 L159.0,437.3 L157.6,435.9 L157.1,433.9 L155.5,432.5 L154.5,430.8 L154.1,428.8 L153.6,426.8 L155.2,425.1 L155.4,423.2 L155.3,421.3 L155.3,419.4 L153.5,418.3 L151.9,417.0 L150.4,415.6 L149.0,414.0 L147.1,413.0 L145.9,411.2 L144.8,409.7 L143.5,408.4 L143.5,406.2 L142.5,404.7 L140.9,403.6 L139.5,402.4 L138.8,400.6 L138.9,398.6 L137.2,397.3 L136.6,395.6 L135.3,394.2 L135.3,392.2 L134.7,390.5 L134.1,388.8 L133.2,386.9 L131.8,385.3 L131.3,383.2 L129.6,381.7 L129.4,379.4 L127.9,378.3 L126.5,377.0 L125.7,375.3 L124.1,374.3 L123.5,372.4 L122.0,371.0 L121.6,369.0 L120.8,367.3 L120.5,365.3 L119.7,363.5 L119.2,361.6 L118.3,359.9 L117.6,358.1 L116.5,356.5 L115.5,354.6 L113.5,353.8 L112.0,352.4 L111.4,350.2 L109.4,349.4 L108.4,347.8 L108.9,345.8 L108.3,344.1 L106.9,342.5 L107.8,340.5 L107.4,338.7 L106.5,337.0 L105.9,335.3 L106.6,333.3 L107.1,331.4 L106.3,329.2 L107.3,327.2 L107.6,325.2 L108.4,323.3 L108.2,321.2 L108.0,319.2 L107.3,317.5 L106.2,315.9 L105.9,313.9 L104.9,312.3 L104.2,310.5 L102.7,309.0 L102.4,307.1 L100.4,305.8 L99.2,303.9 L98.2,301.9 L97.0,300.0 L95.3,298.4 L94.8,296.2 L93.7,294.3 L91.8,293.1 L90.2,291.6 L88.9,289.9 L87.4,288.4 L85.7,287.1 L85.2,285.0 L84.1,283.1 L83.4,281.1 L82.3,279.2 L83.4,277.0 L82.7,275.0 L81.9,272.9 L80.4,271.2 L79.3,269.3 L78.1,267.5 L77.6,265.5 L76.6,263.7 L74.7,263.1 L73.6,261.4 L73.6,259.1 L72.9,256.9 L71.1,255.6 L69.8,253.8 L70.3,251.6 L72.1,250.1 L73.3,248.0 L75.1,246.3 L75.7,244.3 L75.0,242.1 L76.1,240.1 L75.9,238.0 L77.4,236.4 L77.4,234.2 L77.6,232.2 L77.7,230.1 L78.1,228.1 L81.2,228.1 L81.7,229.9 L81.9,231.7 L82.7,233.4 L84.2,231.9 L86.4,231.6 L88.3,230.6 L90.2,229.7 L92.1,230.3 L94.0,230.4 L94.6,228.5 L96.3,227.4 L98.4,226.1 L100.8,225.9 L102.8,225.2 L104.9,225.8 L106.9,225.1 L107.6,223.2 L109.0,221.6 L109.9,219.8 L111.2,217.3 L113.7,216.0 L116.0,215.3 L118.2,216.0 L118.1,213.9 L119.0,212.0 L119.0,210.0 L119.2,208.1 L119.1,206.1 L118.3,204.3 L118.6,202.3 L118.5,200.4 L117.9,198.4 L117.4,196.3 L116.4,194.5 L117.1,192.1 L115.5,190.4 L115.5,188.2 L115.6,185.9 L114.9,184.0 Z" fill="none" stroke="#555" stroke-width="1.25" stroke-linejoin="round"/>
<g stroke="#666" stroke-width="0.7"><line x1="88" y1="209" x2="122" y2="277"/><line x1="187" y1="187" x2="178" y2="236"/><line x1="258.7" y1="218" x2="231.4" y2="256.6"/><line x1="309" y1="236" x2="259.7" y2="265.6"/><line x1="330" y1="282" x2="216.4" y2="306.6"/><line x1="330" y1="318.4" x2="177.3" y2="334"/><line x1="262" y1="361.4" x2="173.3" y2="377.4"/><line x1="313" y1="391.1" x2="249.7" y2="396.2"/><line x1="113.8" y1="389" x2="144" y2="395"/><line x1="126.4" y1="440" x2="167.5" y2="424.4"/><line x1="149.8" y1="477.3" x2="206.6" y2="426.4"/><line x1="181.2" y1="530.1" x2="237.9" y2="471.4"/><line x1="269.3" y1="528.2" x2="284.9" y2="459.6"/><line x1="355.4" y1="514.4" x2="320.2" y2="475.3"/></g>
</svg>
<div class="lt" style="left:29.5px;top:162.6px">Pueblo</div><div class="lt" style="left:29.5px;top:173.1px">Rico</div><div class="pill" style="left:69.6px;top:189.2px;width:39.9px;height:18.8px;line-height:20.8px"><span>0</span></div><div class="lt" style="left:131.5px;top:151.6px">Mistrató</div><div class="pill" style="left:171.4px;top:167.6px;width:39.9px;height:18.4px;line-height:20.4px"><span>1</span></div><div class="lt" style="left:203.4px;top:182.2px">Guática</div><div class="pill" style="left:241.9px;top:196.2px;width:39.1px;height:19.6px;line-height:21.6px"><span>2</span></div><div class="lt" style="left:269.3px;top:207.6px">Quinchía</div><div class="pill" style="left:309.2px;top:222.4px;width:40.3px;height:19.6px;line-height:21.6px"><span>7</span></div><div class="lt" style="left:290.0px;top:247.1px">Belén de</div><div class="lt" style="left:290.0px;top:257.6px">Umbría</div><div class="pill" style="left:330.0px;top:271.4px;width:40.3px;height:19.6px;line-height:21.6px"><span>1</span></div><div class="lt" style="left:290.0px;top:297.7px">Apía</div><div class="pill" style="left:330.0px;top:310.5px;width:40.3px;height:20.4px;line-height:22.4px"><span>5</span></div><div class="lt" style="left:222.2px;top:332.2px">Santuario</div><div class="pill" style="left:262.3px;top:346.5px;width:39.8px;height:19.3px;line-height:21.3px"><span>2</span></div><div class="lt" style="left:273.2px;top:363.8px">Marsella</div><div class="pill" style="left:313.1px;top:378.6px;width:40.3px;height:19.2px;line-height:21.2px"><span>6</span></div><div class="lt" style="left:34.0px;top:362.6px">La Celia</div><div class="pill" style="left:74.3px;top:378.2px;width:39.5px;height:18.0px;line-height:20.0px"><span>2</span></div><div class="lt" style="left:39.0px;top:419.4px">Balboa</div><div class="pill" style="left:79.4px;top:434.2px;width:39.1px;height:19.6px;line-height:21.6px"><span>5</span></div><div class="lt" style="left:53.8px;top:469.5px">La Virginia</div><div class="pill" style="left:94.2px;top:485.1px;width:39.2px;height:18.8px;line-height:20.8px"><span>2</span></div><div class="lt" style="left:96.0px;top:520.0px">Pereira</div><div class="pill" style="left:136.1px;top:534.8px;width:40.0px;height:19.6px;line-height:21.6px"><span style="transform:scaleX(0.86)">176</span></div><div class="lt" style="left:206.5px;top:525.1px">Dosquebradas</div><div class="pill" style="left:243.8px;top:539.9px;width:39.9px;height:18.8px;line-height:20.8px"><span>43</span></div><div class="lt" style="left:307.5px;top:519.2px">Santa Rosa</div><div class="lt" style="left:307.5px;top:529.7px">de Cabal</div><div class="pill" style="left:347.6px;top:545.0px;width:39.9px;height:19.6px;line-height:21.6px"><span style="transform:scaleX(0.86)">11</span></div><div class="lt" style="left:332.0px;top:138.0px;-webkit-text-stroke:0;font-size:12.2px;top:136.2px">Otros</div><div class="pill" style="left:372.0px;top:151.0px;width:40.0px;height:19.0px;line-height:21.0px"><span>7</span></div>
<div class="dp" style="left:619.5px;top:99.3px;width:38.5px;height:18.9px;line-height:20.4px">25</div><div class="dp" style="left:724.5px;top:110.3px;width:40.0px;height:19.4px;line-height:20.9px">10</div><div class="dp" style="left:517px;top:146.8px;width:38.5px;height:18.9px;line-height:20.4px">9</div><div class="dp" style="left:493px;top:175.3px;width:39px;height:19.4px;line-height:20.9px">4</div><div class="dp" style="left:464.5px;top:241.8px;width:39.0px;height:18.9px;line-height:20.4px">20</div><div class="dp" style="left:837px;top:269.3px;width:40px;height:18.9px;line-height:20.4px">56</div><div class="dp" style="left:549.5px;top:435.3px;width:39.0px;height:18.9px;line-height:20.4px">71</div>
<div class="lg" style="left:556px;top:489px;width:71.3px;height:19.5px;line-height:21.0px;background:#79b8c3">Agua</div><div class="lg" style="left:635.4px;top:489px;width:71.8px;height:19.5px;line-height:21.0px;background:#0b6a8d">Aire</div><div class="lg" style="left:714.5px;top:489px;width:71.3px;height:19.5px;line-height:21.0px;background:#9c5f1b">Suelo</div><div class="lg" style="left:554.5px;top:513.7px;width:71.9px;height:18.9px;line-height:20.4px;background:#8e962b">Forestal</div><div class="lg" style="left:633.7px;top:513.7px;width:71.5px;height:18.9px;line-height:20.4px;background:#f8bd2d">Fauna</div><div class="lg" style="left:716px;top:513.7px;width:71.8px;height:18.9px;line-height:20.4px;background:#ec7f10">G.riesgo</div><div class="lg" style="left:554.5px;top:538.4px;width:92.5px;height:19.5px;line-height:21.0px;background:#43a994">Agropecuario</div><div class="lg" style="left:653.4px;top:538.4px;width:134.4px;height:19.5px;line-height:21.0px;background:#d5131f">Residuos Peligrosos</div>
<div class="t1">Boletín mensual de</div>
<div class="t2" style="left:138.5px;top:54px;transform:scaleX(1.066)">DENUNCIAS</div>
<div class="t2" style="left:103.5px;top:81.5px;transform:scaleX(1.055)">AMBIENTALES</div>
<div class="bar"></div><div class="bart">Del 1 al 31 de Enero de 2026</div>
<div class="abs" style="left:698.7px;top:37.2px;width:196px;height:52px;background:#4a4a4a"></div>
<div class="abs" style="left:618px;top:44.8px;width:102px;height:38px;border-radius:19px;background:linear-gradient(90deg,#f76800,#fd9a00 45%,#feb100 75%,#feb400);color:#fff8ee;font-family:'DejaVu Sans',sans-serif;font-weight:bold;font-size:32px;letter-spacing:-2.2px;-webkit-text-stroke:0.7px #fff8ee;padding-right:0;line-height:39px;text-align:center"><span style='margin-left:-1px'>270</span></div>
<div class="abs" style="left:725.5px;top:48.3px;color:#fff8ee;-webkit-text-stroke:0.3px #fff8ee;font-family:'DejaVu Sans',sans-serif;font-weight:bold;font-size:14px;line-height:14.2px;white-space:nowrap;transform-origin:0 0;transform:scaleX(0.925)">Total denuncias<br>ambientales del mes</div>
</body></html>
